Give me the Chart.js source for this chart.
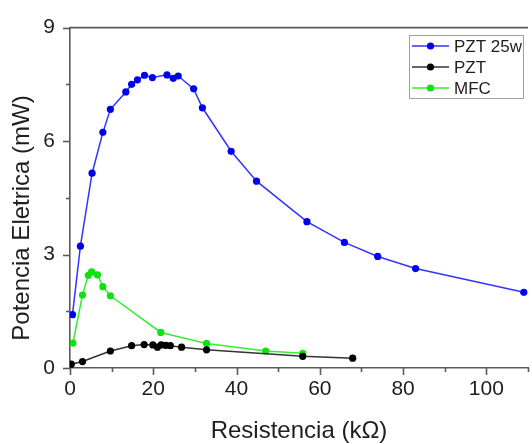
<!DOCTYPE html>
<html>
<head>
<meta charset="utf-8">
<title>Potencia x Resistencia</title>
<script src="https://cdn.jsdelivr.net/npm/chart.js@4/dist/chart.umd.min.js"></script>
<style>
    html, body { margin: 0; padding: 0; background: #fff; overflow: hidden; }
    canvas { display: block; }
</style>
</head>
<body>
<canvas id="powerChart" width="532" height="444"></canvas>
<script>
// Resistencia de carga (kOhm) e potencia eletrica (mW) de cada gerador
const pzt25wR = [0.6, 2.5, 5.3, 7.9, 9.7, 13.4, 14.8, 16.2, 17.9, 19.8, 23.3, 24.8, 26.0, 29.7, 31.8, 38.7, 44.8, 56.9, 65.9, 73.9, 83.0, 109];
const pzt25wP = [1.41, 3.22, 5.15, 6.23, 6.84, 7.30, 7.50, 7.62, 7.74, 7.68, 7.75, 7.66, 7.72, 7.38, 6.88, 5.73, 4.94, 3.87, 3.32, 2.95, 2.63, 2.00];

const pztR = [0.3, 3.0, 9.7, 14.8, 17.8, 19.9, 21.0, 21.9, 23.0, 24.1, 26.8, 32.8, 55.9, 67.9];
const pztP = [0.10, 0.17, 0.45, 0.59, 0.62, 0.61, 0.55, 0.61, 0.60, 0.59, 0.55, 0.48, 0.31, 0.26];

const mfcR = [0.7, 3.0, 4.4, 5.2, 6.6, 7.9, 9.7, 21.8, 32.8, 47.0, 55.9];
const mfcP = [0.66, 1.93, 2.45, 2.54, 2.46, 2.15, 1.91, 0.94, 0.65, 0.45, 0.39];

const seriesLabels = ['PZT 25w', 'PZT', 'MFC'];
const yTicks = [0, 3, 6, 9];
const xTicks = [0, 20, 40, 60, 80, 100];
const xTitle = 'Resistencia (k\u03A9)';
const yTitle = 'Potencia Eletrica (mW)';

const FONT = '"Liberation Sans", Arial, sans-serif';
const AXIS_COLOR = '#5a5a5a';
const TEXT_COLOR = '#1e1e1e';

function toPoints(xs, ys) {
    return xs.map((x, i) => ({ x: x, y: ys[i] }));
}

function makeSeries(label, xs, ys, lineColor, dotColor) {
    return {
        label: label,
        data: toPoints(xs, ys),
        borderColor: lineColor,
        backgroundColor: dotColor,
        pointBackgroundColor: dotColor,
        pointBorderWidth: 0,
        pointRadius: 3.6,
        borderWidth: 1.5,
        tension: 0,
        fill: false
    };
}

// Frame, minor/major ticks, axis titles and the boxed legend
const decorations = {
    id: 'decorations',
    afterDraw(chart) {
        const ctx = chart.ctx;
        const area = chart.chartArea;
        const xs = chart.scales.x;
        const ys = chart.scales.y;

        ctx.save();
        ctx.strokeStyle = AXIS_COLOR;
        ctx.lineWidth = 1.6;

        // top frame line
        ctx.beginPath();
        ctx.moveTo(area.left, area.top);
        ctx.lineTo(area.right, area.top);
        ctx.stroke();

        // y ticks (major every 3, minor halfway)
        for (let v = 0; v <= 9; v += 1.5) {
            const py = Math.round(ys.getPixelForValue(v)) + 0.5;
            const len = (v % 3 === 0) ? 7 : 4;
            ctx.beginPath();
            ctx.moveTo(area.left - len, py);
            ctx.lineTo(area.left, py);
            ctx.stroke();
        }
        // x ticks (major every 20, minor every 10)
        for (let v = 0; v <= 110; v += 10) {
            const px = Math.round(xs.getPixelForValue(v)) + 0.5;
            const len = (v % 20 === 0) ? 7 : 4;
            ctx.beginPath();
            ctx.moveTo(px, area.bottom);
            ctx.lineTo(px, area.bottom + len);
            ctx.stroke();
        }

        // axis titles
        ctx.fillStyle = TEXT_COLOR;
        ctx.font = '24px ' + FONT;
        ctx.textAlign = 'center';
        ctx.textBaseline = 'middle';
        ctx.fillText(xTitle, (area.left + area.right) / 2, 431);

        ctx.save();
        ctx.translate(22, 218);
        ctx.rotate(-Math.PI / 2);
        ctx.fillText(yTitle, 0, 0);
        ctx.restore();

        // legend box
        const box = { x: 409.5, y: 35.5, w: 114, h: 63 };
        ctx.fillStyle = '#fff';
        ctx.fillRect(box.x, box.y, box.w, box.h);
        ctx.strokeStyle = '#a0a0a0';
        ctx.lineWidth = 1;
        ctx.strokeRect(box.x, box.y, box.w, box.h);

        ctx.font = '17px ' + FONT;
        ctx.textAlign = 'left';
        chart.data.datasets.forEach((ds, i) => {
            const cy = 46 + i * 21;
            ctx.strokeStyle = ds.borderColor;
            ctx.lineWidth = 1.5;
            ctx.beginPath();
            ctx.moveTo(412, cy);
            ctx.lineTo(449, cy);
            ctx.stroke();
            ctx.fillStyle = ds.pointBackgroundColor;
            ctx.beginPath();
            ctx.arc(430.5, cy, 3.6, 0, Math.PI * 2);
            ctx.fill();
            ctx.fillStyle = TEXT_COLOR;
            ctx.fillText(ds.label, 454, cy + 1);
        });
        ctx.restore();
    }
};

new Chart(document.getElementById('powerChart'), {
    type: 'line',
    data: {
        datasets: [
            makeSeries(seriesLabels[0], pzt25wR, pzt25wP, '#3333ff', '#0000f0'),
            makeSeries(seriesLabels[1], pztR, pztP, '#333333', '#000000'),
            makeSeries(seriesLabels[2], mfcR, mfcP, '#33ee33', '#11e011')
        ]
    },
    options: {
        responsive: false,
        animation: false,
        devicePixelRatio: 1,
        layout: { padding: { top: 25, left: 0, right: 0, bottom: 0 } },
        plugins: {
            legend: { display: false },
            tooltip: { enabled: false }
        },
        scales: {
            x: {
                type: 'linear',
                min: 0,
                max: 110,
                afterFit(scale) { scale.height = 76; },
                afterBuildTicks(scale) {
                    scale.ticks = xTicks.map(v => ({ value: v }));
                },
                grid: { display: false, drawTicks: false },
                border: { display: true, color: AXIS_COLOR, width: 1.6 },
                ticks: {
                    padding: 9,
                    color: TEXT_COLOR,
                    font: { family: FONT, size: 21 },
                    maxRotation: 0,
                    autoSkip: false
                }
            },
            y: {
                type: 'linear',
                min: 0,
                max: 9,
                afterFit(scale) { scale.width = 70; },
                afterBuildTicks(scale) {
                    scale.ticks = yTicks.map(v => ({ value: v }));
                },
                grid: { display: false, drawTicks: false },
                border: { display: true, color: AXIS_COLOR, width: 1.6 },
                ticks: {
                    padding: 15,
                    color: TEXT_COLOR,
                    font: { family: FONT, size: 21 }
                }
            }
        }
    },
    plugins: [decorations]
});
</script>
</body>
</html>
